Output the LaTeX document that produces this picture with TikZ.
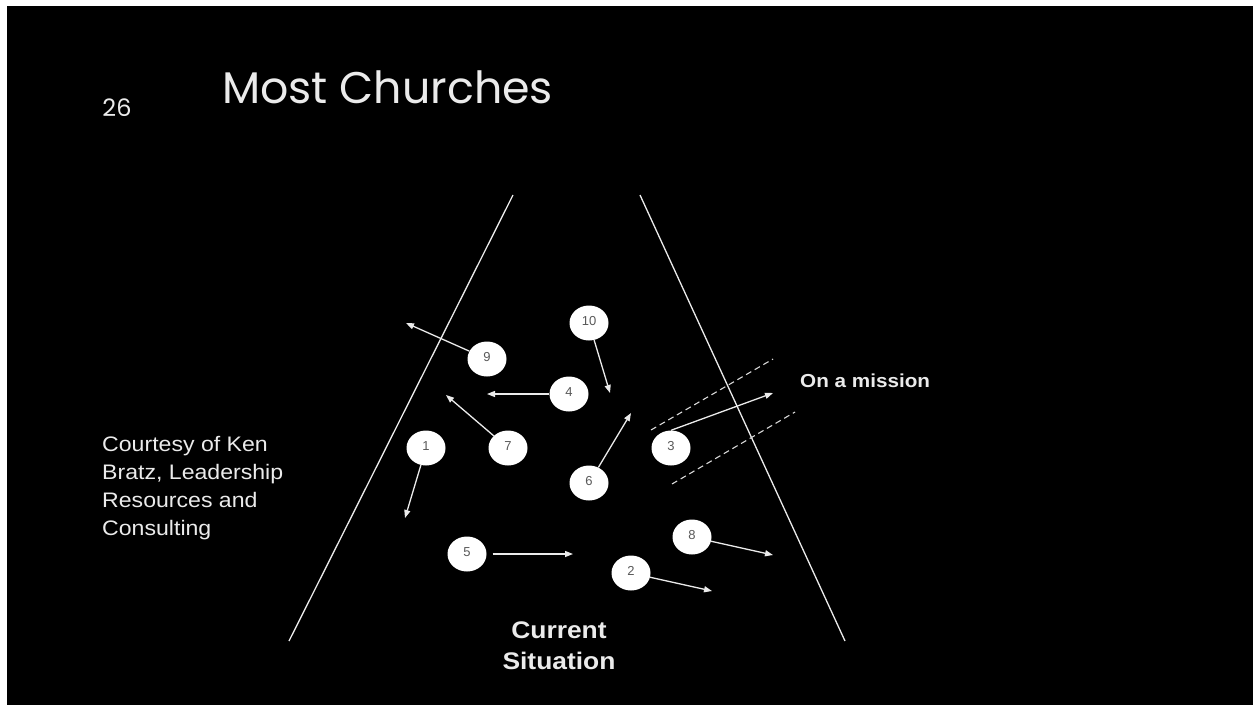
\documentclass[tikz,border=0pt]{standalone}
\usepackage{fontspec}
\setmainfont{Liberation Sans}
\newfontfamily\widesans{Liberation Sans}[FakeStretch=1.1]
\newfontfamily\headfont{Poppins}
\usetikzlibrary{arrows.meta,shapes.geometric}
\begin{document}
\begin{tikzpicture}[x=1pt,y=-1pt,
  bubble/.style={ellipse,fill=white,minimum width=39pt,minimum height=35pt,inner sep=0pt,
    font=\fontsize{13}{13}\selectfont,text=black!65},
  move/.style={draw=white!92!black,line width=1.3pt,-{Triangle[length=8pt,width=6pt]}},
  edge/.style={draw=white!92!black,line width=1.3pt},
  lane/.style={draw=white!85!black,line width=1.1pt,dash pattern=on 6pt off 4pt},
  bodytext/.style={text=white!92!black,align=left,inner sep=0pt,font=\widesans\fontsize{21}{28}\selectfont},
  boldtext/.style={text=white!92!black,inner sep=0pt,font=\widesans\bfseries\fontsize{18.8}{20}\selectfont}]
% slide background
\useasboundingbox (0,0) rectangle (1253,705);
\fill[white] (0,0) rectangle (1253,705);
\fill[black] (7,6) rectangle (1253,705);

% heading and slide number
\node[anchor=base west,inner sep=0pt,text=white!92!black,font=\headfont\fontsize{44.3}{44}\selectfont] (title) at (222,103) {Most Churches};
\node[anchor=base,inner sep=0pt,text=white!92!black,font=\headfont\fontsize{24}{24}\selectfont] (num) at (117,116) {26};

% funnel walls
\coordinate (lt) at (513,195); \coordinate (lb) at (289,641);
\coordinate (rt) at (640,195); \coordinate (rb) at (845,641);
\draw[edge] (lt) -- (lb);
\draw[edge] (rt) -- (rb);

% the mission lane
\coordinate (la1) at (651,430); \coordinate (la2) at (773,359);
\coordinate (lb1) at (672,484); \coordinate (lb2) at (795,412);
\draw[lane] (la1) -- (la2);
\draw[lane] (lb1) -- (lb2);

% ministries
\node[bubble] (n10) at (589,323) {\raisebox{4pt}{10}};
\node[bubble] (n9) at (487,359) {\raisebox{4pt}{9}};
\node[bubble] (n4) at (569,394) {\raisebox{4pt}{4}};
\node[bubble] (n1) at (426,448) {\raisebox{4pt}{1}};
\node[bubble] (n7) at (508,448) {\raisebox{4pt}{7}};
\node[bubble] (n3) at (671,448) {\raisebox{4pt}{3}};
\node[bubble] (n6) at (589,483) {\raisebox{4pt}{6}};
\node[bubble] (n8) at (692,537) {\raisebox{4pt}{8}};
\node[bubble] (n5) at (467,554) {\raisebox{4pt}{5}};
\node[bubble] (n2) at (631,573) {\raisebox{4pt}{2}};

% directions each ministry heads in
\coordinate (t10) at (610,393);
\coordinate (t9) at (406,323);
\coordinate (t4) at (487,394);
\coordinate (t7) at (446,395);
\coordinate (t6) at (631,413);
\coordinate (t1) at (405,518);
\coordinate (t3) at (773,393);
\coordinate (t5) at (573,554);
\coordinate (t8) at (773,555);
\coordinate (t2) at (712,591);
\draw[move] (n10) -- (t10);
\draw[move] (n9) -- (t9);
\draw[move] (n4) -- (t4);
\draw[move] (n7) -- (t7);
\draw[move] (n6) -- (t6);
\draw[move] (n1) -- (t1);
\draw[move] (n3.north) -- (t3);
\draw[move] ([xshift=6pt]n5.east) -- (t5);
\draw[move] (n8) -- (t8);
\draw[move] (n2) -- (t2);

% labels
\node[boldtext,anchor=west] (mission) at (800,381) {On a mission};
\node[boldtext,align=center,font=\widesans\bfseries\fontsize{24}{31}\selectfont] (current) at (559,646) {Current\\Situation};
\node[bodytext,anchor=north west] (credit) at (102,436) {Courtesy of Ken\\Bratz, Leadership\\Resources and\\Consulting};
\end{tikzpicture}
\end{document}
